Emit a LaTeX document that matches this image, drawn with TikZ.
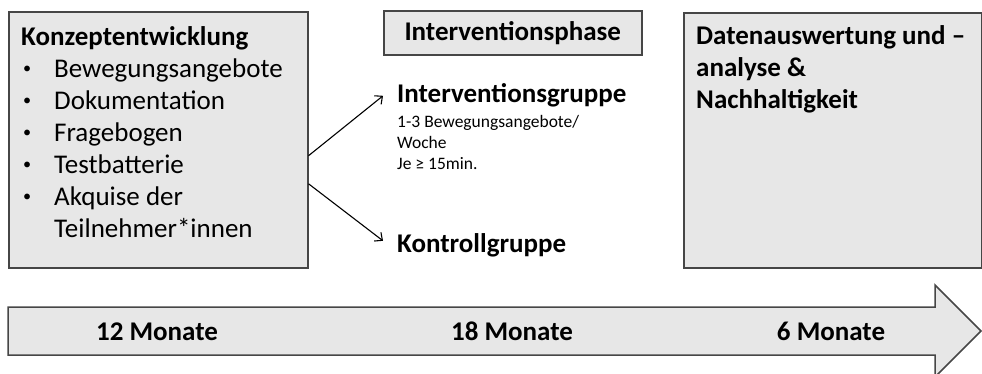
\documentclass[tikz,border=0pt]{standalone}
\usepackage{fontspec}
\setmainfont{Carlito}
\usepackage{xcolor}
\usepackage{tikz}
\usetikzlibrary{positioning,arrows.meta}

\definecolor{boxgray}{RGB}{231,231,231}
\definecolor{linegray}{RGB}{70,70,70}
\newcommand{\bigfont}{\fontsize{27}{32}\selectfont}
\newcommand{\smallfont}{\fontsize{17.5}{21}\selectfont}
\newcommand{\bul}{\makebox[33pt][l]{\hspace{2pt}\raisebox{3.5pt}{\scalebox{0.6}{•}}}}

\begin{document}
\begin{tikzpicture}[
        x=1pt, y=-1pt,
        boxline/.style={draw=linegray, line width=1.5pt, fill=boxgray},
        phase/.style={boxline, rectangle, inner sep=0pt, anchor=north west},
        boxtext/.style={inner sep=0pt, anchor=north west, align=left, font=\bigfont},
        group/.style={inner sep=0pt, anchor=base west, font=\bigfont\bfseries},
        months/.style={inner sep=0pt, anchor=base, font=\bigfont\bfseries},
        flow/.style={-{Straight Barb[length=6pt,width=11pt]}, line width=1.1pt}
    ]
        \useasboundingbox (0,0) rectangle (982,373);

        % phases
        \node[phase, minimum width=299pt, minimum height=256pt] (konzept) at (8,11) {};
        \node[boxtext] (konzepttext) at (21,26) {\textbf{Konzeptentwicklung}\\
            \bul Bewegungsangebote\\
            \bul Dokumentation\\
            \bul Fragebogen\\
            \bul Testbatterie\\
            \bul Akquise der\\
            \makebox[33pt]{}Teilnehmer*innen};

        \node[phase, minimum width=258pt, minimum height=44pt, font=\bigfont\bfseries] (iphase) at (383,10) {Interventionsphase};

        \node[phase, minimum width=298pt, minimum height=255pt] (daten) at (683,12) {};
        \node[boxtext, font=\bigfont\bfseries] (datentext) at (696,25) {Datenauswertung und –\\analyse \&\\Nachhaltigkeit};

        % groups
        \node[group] (igruppe) at (397,102) {Interventionsgruppe};
        \node[inner sep=0pt, align=left, font=\smallfont, below=8pt of igruppe.south west, anchor=north west] (idetail) {1-3 Bewegungsangebote/\\Woche\\Je ≥ 15min.};
        \node[group] (kontroll) at (397,252) {Kontrollgruppe};

        \draw[flow] ([yshift=-16pt]konzept.east) -- ([xshift=-14pt,yshift=-1pt]igruppe.west);
        \draw[flow] ([yshift=-44pt]konzept.east) -- ([xshift=-14pt,yshift=4pt]kontroll.west);

        % time line
        \draw[boxline] (8,307) -- (935,307) -- (935,285) -- (981,331) -- (935,377) -- (935,355) -- (8,355) -- cycle;
        \node[months] (m12) at (157,340) {12 Monate};
        \node[months] (m18) at (512,340) {18 Monate};
        \node[months] (m6) at (831,340) {6 Monate};
    \end{tikzpicture}
\end{document}
